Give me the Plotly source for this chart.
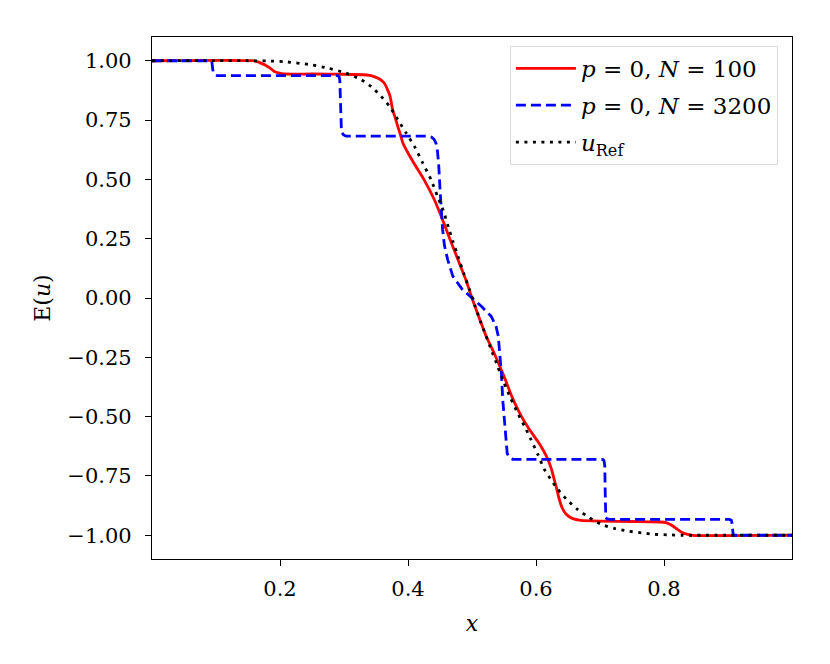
import plotly.graph_objects as go

# p = 0, N = 100 (red solid)
x_n100 = [0.0, 0.158, 0.164, 0.170, 0.176, 0.184, 0.191, 0.199, 0.207, 0.25, 0.30, 0.330, 0.340,
          0.348, 0.354, 0.358, 0.363, 0.368, 0.372, 0.376, 0.380, 0.384, 0.388, 0.392, 0.400,
          0.410, 0.425, 0.441, 0.454, 0.466, 0.478, 0.490, 0.500, 0.510, 0.522, 0.535, 0.550,
          0.563, 0.577, 0.590, 0.603, 0.610, 0.616, 0.620, 0.624, 0.628, 0.632, 0.636, 0.641,
          0.646, 0.652, 0.660, 0.670, 0.70, 0.75, 0.795, 0.803, 0.810, 0.816, 0.821, 0.828,
          0.837, 0.845, 1.0]
y_n100 = [1.0, 1.0, 0.996, 0.99, 0.983, 0.970, 0.955, 0.948, 0.944, 0.944, 0.943, 0.941, 0.938,
          0.932, 0.925, 0.918, 0.905, 0.878, 0.85, 0.794, 0.76, 0.723, 0.69, 0.653, 0.611,
          0.565, 0.499, 0.415, 0.33, 0.245, 0.162, 0.08, 0.0, -0.075, -0.16, -0.235, -0.33,
          -0.42, -0.498, -0.555, -0.605, -0.635, -0.665, -0.69, -0.72, -0.76, -0.80, -0.845,
          -0.885, -0.908, -0.922, -0.932, -0.937, -0.940, -0.942, -0.944, -0.947, -0.955,
          -0.965, -0.975, -0.988, -0.996, -1.0, -1.0]

# p = 0, N = 3200 (blue dashed)
x_n3200 = [0.0, 0.092, 0.0935, 0.0945, 0.0955, 0.098, 0.102, 0.290, 0.2925, 0.2935, 0.2945, 0.296,
           0.299, 0.303, 0.432, 0.437, 0.441, 0.444, 0.446, 0.448, 0.450, 0.452, 0.454, 0.457,
           0.462, 0.470, 0.485, 0.500, 0.515, 0.530, 0.5375, 0.541, 0.543, 0.546, 0.548, 0.551,
           0.553, 0.555, 0.558, 0.564, 0.700, 0.705, 0.7065, 0.7075, 0.708, 0.7085, 0.709, 0.711,
           0.715, 0.902, 0.905, 0.906, 0.907, 0.9075, 0.908, 0.910, 1.0]
y_n3200 = [1.0, 1.0, 0.995, 0.975, 0.952, 0.942, 0.937, 0.937, 0.932, 0.915, 0.80, 0.70,
           0.688, 0.682, 0.682, 0.678, 0.668, 0.65, 0.62, 0.56, 0.46, 0.37, 0.29, 0.22,
           0.162, 0.092, 0.036, 0.0, -0.036, -0.077, -0.119, -0.16, -0.217, -0.32, -0.427,
           -0.53, -0.62, -0.655, -0.672, -0.68, -0.68, -0.681, -0.688, -0.71, -0.80, -0.91,
           -0.925, -0.931, -0.933, -0.933, -0.936, -0.945, -0.96, -0.98, -0.995, -1.0, -1.0]

# u_Ref (black dotted)
x_ref = [0.0, 0.15, 0.18, 0.207, 0.248, 0.275, 0.303, 0.327, 0.342, 0.358, 0.371, 0.384, 0.397,
         0.410, 0.423, 0.436, 0.446, 0.455, 0.463, 0.470, 0.478, 0.487, 0.496, 0.505, 0.514,
         0.522, 0.530, 0.540, 0.550, 0.560, 0.571, 0.582, 0.592, 0.603, 0.613, 0.624, 0.634,
         0.649, 0.665, 0.683, 0.702, 0.722, 0.743, 0.765, 0.785, 0.805, 0.827, 0.85, 1.0]
y_ref = [1.0, 1.0, 0.999, 0.996, 0.983, 0.969, 0.948, 0.92, 0.892, 0.85, 0.808, 0.752, 0.696,
         0.639, 0.569, 0.499, 0.429, 0.37, 0.30, 0.24, 0.176, 0.105, 0.036, -0.035, -0.104,
         -0.16, -0.217, -0.287, -0.357, -0.42, -0.483, -0.54, -0.596, -0.66, -0.722, -0.768,
         -0.806, -0.852, -0.891, -0.925, -0.954, -0.971, -0.982, -0.990, -0.996, -0.998, -1.0,
         -1.0, -1.0]

x_ticks = [0.2, 0.4, 0.6, 0.8]
y_ticks = [-1.0, -0.75, -0.5, -0.25, 0.0, 0.25, 0.5, 0.75, 1.0]

font_family = "DejaVu Serif"

fig = go.Figure()
fig.add_trace(go.Scatter(x=x_n100, y=y_n100, mode="lines", name="<i>p</i> = 0, <i>N</i> = 100",
                         legendgroup="a",
                         line=dict(color="#ff0000", width=2.8, shape="spline", smoothing=0.6)))
fig.add_trace(go.Scatter(x=x_n3200, y=y_n3200, mode="lines", name="<i>p</i> = 0, <i>N</i> = 3200",
                         legendgroup="b",
                         line=dict(color="#0000ff", width=2.8, dash="10px,5px")))
fig.add_trace(go.Scatter(x=x_ref, y=y_ref, mode="lines", name="<i>u</i><sub>Ref</sub>",
                         legendgroup="c",
                         line=dict(color="#000000", width=2.8, dash="3px,5.5px",
                                   shape="spline", smoothing=0.6)))

axis_common = dict(showgrid=False, zeroline=False, showline=True, linecolor="black", linewidth=1.2,
                   mirror=True, ticks="outside", ticklen=6, tickwidth=1.2, tickcolor="black",
                   tickfont=dict(family=font_family, size=21, color="black"))

fig.update_xaxes(range=[0.0, 1.0], tickvals=x_ticks, tickformat=".1f", ticklabelstandoff=5,
                 title=dict(text="<i>x</i>", font=dict(family=font_family, size=22, color="black"),
                            standoff=15),
                 **axis_common)
fig.update_yaxes(range=[-1.1, 1.1], tickvals=y_ticks, tickformat=".2f", ticklabelstandoff=9,
                 title=dict(text="E(<i>u</i>)", font=dict(family=font_family, size=22, color="black"),
                            standoff=10),
                 **axis_common)

fig.update_layout(
    width=830, height=664,
    margin=dict(l=144, r=46, t=29, b=113),
    plot_bgcolor="white", paper_bgcolor="white",
    font=dict(family=font_family, color="black"),
    legend=dict(x=0.978, y=0.983, xanchor="right", yanchor="top",
                bgcolor="rgba(255,255,255,0.8)", bordercolor="#d9d9d9", borderwidth=1,
                font=dict(family=font_family, size=23, color="black"),
                tracegroupgap=4, itemwidth=60),
)

fig.write_html("out.html")
